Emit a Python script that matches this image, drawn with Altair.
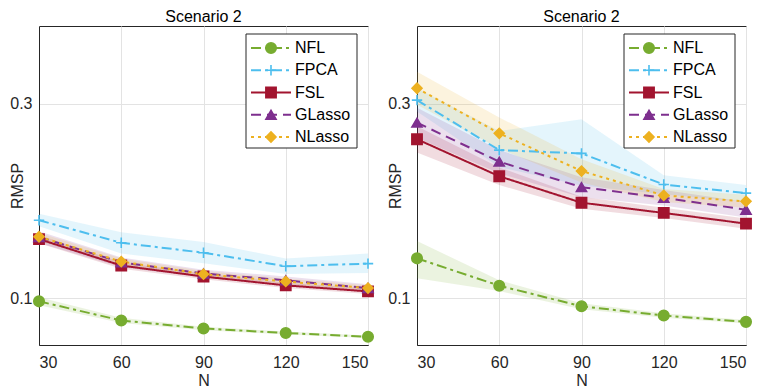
import altair as alt
import pandas as pd

N = [30, 60, 90, 120, 150]
SERIES = ["NFL", "FPCA", "FSL", "GLasso", "NLasso"]
COLORS = ["#77AC30", "#4DBEEE", "#A2142F", "#7E2F8E", "#EDB120"]
DASHES = [[10, 4, 3, 4], [10, 4, 3, 4], [1, 0], [10, 6], [3, 4]]
SHAPES = ["circle", "M-1,0H1M0,-1V1", "square", "triangle-up", "diamond"]
SIZES = [110, 100, 64, 90, 100]

# ---- left panel ----
L_mean = {
    "NFL":    [0.0969, 0.0772, 0.0690, 0.0643, 0.0605],
    "FPCA":   [0.1803, 0.1571, 0.1469, 0.1330, 0.1357],
    "FSL":    [0.1609, 0.1337, 0.1224, 0.1133, 0.1071],
    "GLasso": [0.1630, 0.1370, 0.1255, 0.1185, 0.1105],
    "NLasso": [0.1633, 0.1378, 0.1248, 0.1173, 0.1105],
}
L_lo = {
    "NFL":    [0.0930, 0.0745, 0.0672, 0.0628, 0.0592],
    "FPCA":   [0.1740, 0.1460, 0.1360, 0.1250, 0.1260],
    "FSL":    [0.1565, 0.1305, 0.1195, 0.1105, 0.1045],
    "GLasso": [0.1570, 0.1320, 0.1215, 0.1145, 0.1065],
    "NLasso": [0.1590, 0.1345, 0.1215, 0.1140, 0.1075],
}
L_hi = {
    "NFL":    [0.1010, 0.0800, 0.0708, 0.0658, 0.0618],
    "FPCA":   [0.1870, 0.1680, 0.1580, 0.1410, 0.1460],
    "FSL":    [0.1650, 0.1370, 0.1255, 0.1160, 0.1100],
    "GLasso": [0.1690, 0.1420, 0.1295, 0.1225, 0.1145],
    "NLasso": [0.1675, 0.1410, 0.1280, 0.1205, 0.1135],
}

# ---- right panel ----
R_mean = {
    "NFL":    [0.1411, 0.1130, 0.0918, 0.0823, 0.0758],
    "FPCA":   [0.3038, 0.2524, 0.2490, 0.2170, 0.2082],
    "FSL":    [0.2636, 0.2255, 0.1983, 0.1878, 0.1768],
    "GLasso": [0.2806, 0.2405, 0.2143, 0.2034, 0.1911],
    "NLasso": [0.3160, 0.2697, 0.2309, 0.2058, 0.1997],
}
R_lo = {
    "NFL":    [0.1207, 0.1075, 0.0888, 0.0800, 0.0740],
    "FPCA":   [0.2920, 0.2350, 0.2160, 0.2070, 0.1990],
    "FSL":    [0.2500, 0.2165, 0.1920, 0.1825, 0.1715],
    "GLasso": [0.2650, 0.2285, 0.2040, 0.1955, 0.1830],
    "NLasso": [0.2990, 0.2540, 0.2190, 0.1990, 0.1930],
}
R_hi = {
    "NFL":    [0.1589, 0.1185, 0.0948, 0.0846, 0.0776],
    "FPCA":   [0.3160, 0.2720, 0.2840, 0.2265, 0.2166],
    "FSL":    [0.2770, 0.2345, 0.2045, 0.1930, 0.1820],
    "GLasso": [0.2960, 0.2525, 0.2245, 0.2115, 0.1990],
    "NLasso": [0.3330, 0.2860, 0.2430, 0.2125, 0.2065],
}

Y_DOMAIN = [0.052, 0.38]
W, H = 329, 319
FONT = "Liberation Sans"

color_scale = alt.Scale(domain=SERIES, range=COLORS)
dash_scale = alt.Scale(domain=SERIES, range=DASHES)
shape_scale = alt.Scale(domain=SERIES, range=SHAPES)
size_scale = alt.Scale(domain=SERIES, range=SIZES)


def make_df(mean, lo, hi):
    rows = []
    for s in SERIES:
        for i, n in enumerate(N):
            rows.append({"series": s, "N": n, "RMSP": mean[s][i],
                         "lo": lo[s][i], "hi": hi[s][i], "order": SERIES.index(s)})
    return pd.DataFrame(rows)


def panel(mean, lo, hi):
    df = make_df(mean, lo, hi)
    base = alt.Chart(df)
    x = alt.X("N:Q", scale=alt.Scale(domain=[30, 150], nice=False),
              axis=alt.Axis(values=N, title="N", ticks=False, labelPadding=9,
                            titlePadding=2))
    y = alt.Y("RMSP:Q", scale=alt.Scale(domain=Y_DOMAIN, nice=False, zero=False),
              axis=alt.Axis(values=[0.1, 0.3], format=".1f", title="RMSP",
                            ticks=False, labelPadding=7, titleX=-14,
                            titleY=H / 2, titleBaseline="bottom",
                            titleAlign="center", titleAngle=270))
    bands = base.mark_area(opacity=0.15).encode(
        x=x, y=alt.Y("lo:Q", scale=alt.Scale(domain=Y_DOMAIN, nice=False, zero=False)),
        y2="hi:Q",
        color=alt.Color("series:N", scale=color_scale, legend=None),
        detail="series:N",
    )
    lines = base.mark_line(strokeWidth=2).encode(
        x=x, y=y,
        color=alt.Color("series:N", scale=color_scale, legend=None),
        strokeDash=alt.StrokeDash("series:N", scale=dash_scale, legend=None),
        order="N:Q",
    )
    points = base.mark_point(filled=True, opacity=1, strokeWidth=1.6).encode(
        x=x, y=y,
        color=alt.Color("series:N", scale=color_scale, legend=None),
        stroke=alt.Stroke("series:N", scale=color_scale, legend=None),
        shape=alt.Shape("series:N", scale=shape_scale, legend=None),
        size=alt.Size("series:N", scale=size_scale, legend=None),
    )
    data_layer = alt.layer(bands, lines, points)

    # legend drawn inside the axes, MATLAB style
    leg_df = pd.DataFrame({"series": SERIES})
    ly = alt.Y("series:N", sort=SERIES,
               scale=alt.Scale(type="point", domain=SERIES, range=[22, 111], padding=0),
               axis=None)
    box = alt.Chart(pd.DataFrame({"a": [0]})).mark_rect(
        fill="white", stroke="#262626", strokeWidth=1).encode(
        x=alt.value(207), x2=alt.value(318), y=alt.value(8), y2=alt.value(122))
    leg_lines = alt.Chart(leg_df).mark_rule(strokeWidth=2).encode(
        x=alt.value(212), x2=alt.value(252), y=ly,
        color=alt.Color("series:N", scale=color_scale, legend=None),
        strokeDash=alt.StrokeDash("series:N", scale=dash_scale, legend=None),
    )
    leg_pts = alt.Chart(leg_df).mark_point(filled=True, opacity=1, strokeWidth=1.6).encode(
        x=alt.value(232), y=ly,
        color=alt.Color("series:N", scale=color_scale, legend=None),
        stroke=alt.Stroke("series:N", scale=color_scale, legend=None),
        shape=alt.Shape("series:N", scale=shape_scale, legend=None),
        size=alt.Size("series:N", scale=size_scale, legend=None),
    )
    leg_txt = alt.Chart(leg_df).mark_text(
        align="left", baseline="middle", fontSize=16, font=FONT, color="#000000").encode(
        x=alt.value(256), y=ly, text="series:N")
    legend_layer = alt.layer(box, leg_lines, leg_pts, leg_txt)

    return alt.layer(data_layer, legend_layer).resolve_scale(y="independent").properties(
        width=W, height=H,
        title=alt.TitleParams("Scenario 2", fontSize=16, fontWeight="normal",
                              font=FONT, color="#000000", offset=1),
    )


left = panel(L_mean, L_lo, L_hi)
right = panel(R_mean, R_lo, R_hi)

chart = alt.hconcat(left, right, spacing=49, bounds="flush").properties(
    padding=0
).configure_view(
    stroke="#262626", strokeWidth=1
).configure_axis(
    labelFont=FONT, titleFont=FONT, labelFontSize=16, titleFontSize=16,
    labelColor="#262626", titleColor="#262626", titleFontWeight="normal",
    domainColor="#262626", gridColor="#e3e3e3", gridWidth=1,
)

chart.save("out.html", embed_options={"renderer": "svg", "actions": False})
